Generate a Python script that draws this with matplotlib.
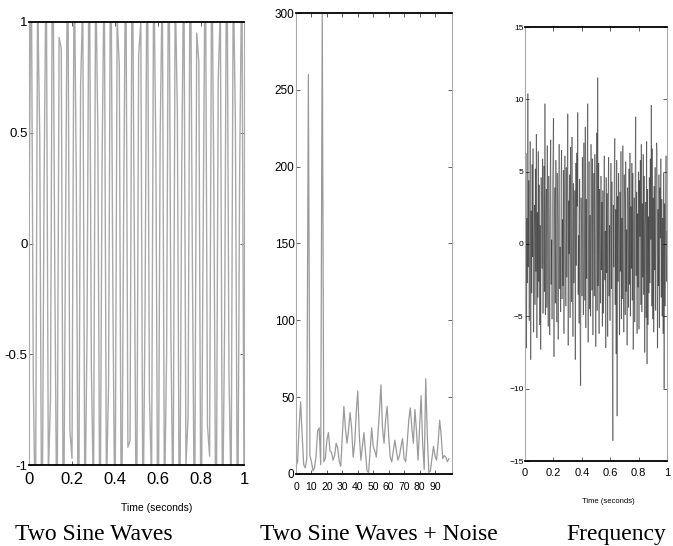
#!/usr/bin/env python

import numpy as np
import matplotlib
matplotlib.use('Agg')
import matplotlib.pyplot as plt
from matplotlib.collections import LineCollection

sine_vals = [0.0, 1.45, -0.62, -1.30, 1.12, 0.48, -1.58, 0.25, 1.36, -1.05,
             -0.70, 1.62, -0.15, -1.41, 0.93, 0.88, -1.52, 0.06, 1.49, -0.84,
             -0.97, 1.33, 0.30, -1.60, 0.71, 1.10, -1.26, -0.40, 1.57, -0.55,
             -1.18, 1.24, 0.52, -1.47, 0.38, 1.28, -1.12, -0.64, 1.55, -0.22,
             -1.38, 1.02, 0.80, -1.55, 0.12, 1.44, -0.92, -0.89, 1.50, 0.02,
             -1.53, 0.85, 1.00, -1.34, -0.28, 1.59, -0.68, -1.08, 1.30, 0.42,
             -1.60, 0.48, 1.20, -1.20, -0.50, 1.61, -0.40, -1.27, 1.16, 0.60,
             -1.56, 0.28, 1.35, -1.00, -0.78, 1.54, -0.10, -1.43, 0.95, 0.82,
             -1.50, 0.05, 1.48, -0.82, -0.96, 1.40, 0.22, -1.58, 0.74, 1.06,
             -1.30, -0.36, 1.58, -0.58, -1.15, 1.22, 0.55, -1.48, 0.35, 1.30,
             -1.10]
sine_t = np.linspace(0, 1, len(sine_vals))

# spectrum, bins 0..99
spec_vals = [5, 8, 30, 47, 25, 6, 4, 10, 260, 12,
             8, 2, 4, 12, 28, 30, 6, 300, 8, 10,
             22, 27, 15, 14, 9, 12, 20, 17, 8, 5,
             25, 44, 30, 20, 28, 40, 30, 11, 20, 40,
             54, 25, 9, 18, 27, 14, 2, 1, 15, 30,
             18, 15, 11, 25, 40, 58, 30, 20, 35, 44,
             25, 11, 8, 15, 22, 15, 9, 12, 18, 23,
             10, 8, 20, 35, 43, 30, 20, 42, 28, 9,
             30, 51, 20, 3, 62, 25, 1, 2, 10, 18,
             12, 9, 20, 35, 25, 10, 12, 11, 8, 10]
spec_x = np.arange(len(spec_vals))

# noisy signal over one second (300 samples)
noise_vals = [3.1, -4.6, 6.3, -7.2, 1.8, -2.7, 10.4, -1.6, 4.4, -5.3, 0.8, 7.1, -8.0, 2.3, -3.4, 5.5, -0.9, 6.6, -6.1, 0.4,
              2.7, -4.2, 5.2, -1.9, 7.6, -6.5, 2.2, -3.7, 6.4, -2.6, 4.1, -5.6, 1.3, -7.3, 4.6, 2.8, -1.7, 5.9, -4.8, 0.2,
              5.4, -3.3, 9.7, -4.9, 1.6, 3.8, -4.4, 6.8, -2.1, -5.7, 4.7, 0.9, -6.3, 3.4, 7.2, -2.8, 0.3, -5.2, 3.6, 6.2,
              8.7, -7.8, 2.5, 3.9, -4.1, 5.8, -1.8, -5.4, 4.9, 1.2, -6.6, 2.9, 6.9, -3.1, -0.2, -4.7, 4.3, 6.5, -3.8, 1.7,
              -2.9, 5.1, -6.2, 2.4, 6.1, -1.2, -4.3, 5.3, -2.3, 3.3, 9.0, -7.0, 3.0, -0.7, 4.8, -5.1, 6.7, 1.9, -4.0, 7.4,
              -2.2, -6.4, 4.2, -2.7, 1.1, 3.7, -8.0, 5.6, -1.5, 6.3, 2.6, 9.1, -3.5, 0.6, -5.5, 4.5, -6.0, -9.8, 3.2, 1.5,
              -3.6, 6.0, -1.1, -4.9, 7.0, 2.1, -3.9, 8.1, -5.8, 3.1, -2.4, 4.6, 9.7, -6.8, 0.7, 5.7, -4.5, 2.0, -5.0, 6.9,
              4.0, -3.2, 5.9, -6.3, 1.9, 4.9, -3.6, 6.2, -0.8, -7.1, 2.8, 7.7, -4.6, 11.5, -2.9, 5.6, -6.2, 3.8, 0.1, -4.1,
              4.7, -1.8, 2.9, -5.7, 3.7, -4.8, 1.7, 6.1, -2.5, 0.9, -7.2, 4.6, -2.0, 3.5, -6.4, 2.6, 6.0, -3.6, 1.3, -5.3,
              2.2, 5.6, -3.1, 4.3, -7.4, -13.6, 2.7, -1.6, 4.8, 7.3, -4.2, 2.4, -7.6, 5.8, -11.9, 3.3, -2.6, 4.9, 0.8, -6.3,
              3.6, -1.9, 6.4, -5.2, 1.8, -3.8, 6.8, -0.9, -6.1, 4.8, 2.7, -4.9, 5.7, -3.3, 1.0, -7.0, 3.9, 2.3, -4.4, 5.2,
              -2.8, 6.3, -5.0, 2.6, -1.7, 5.6, -3.9, 4.9, -7.3, 1.4, 3.2, -5.4, 4.1, 8.8, -2.2, 3.6, -6.2, 2.1, -3.0, 5.0,
              -5.9, 4.4, 0.5, 5.8, -4.2, 6.9, -4.7, 2.8, -2.3, 6.2, -3.5, 4.7, -7.5, 1.2, 2.9, -5.1, 7.1, -8.3, 3.8, -5.6,
              1.9, -3.4, 4.6, -2.7, 5.9, 0.3, 9.6, -4.3, 6.6, -5.2, 3.2, -6.1, 4.0, -1.8, 5.3, -4.6, 1.1, 7.0, 6.4, -7.2,
              2.4, -2.9, 4.8, -5.8, 3.9, 0.4, 5.9, -3.7, 3.1, -5.0, 1.8, -6.2, 4.9, -10.0, 2.8, -4.3, 2.1, 6.1, -2.6, 0.9]
noise_t = np.linspace(0, 1, len(noise_vals))

captions = ['Two Sine Waves', 'Two Sine Waves + Noise', 'Frequency']

tick_font = ['Liberation Sans', 'DejaVu Sans']
W, H = 673, 546
fig = plt.figure(figsize=(6.73, 5.46), dpi=100)


def box(l, r, t, b):
    return fig.add_axes([l / W, (H - b) / H, (r - l) / W, (b - t) / H])


def style(ax, ysize, xsize, xpad):
    ax.tick_params(direction='in', length=3, width=0.6, top=True, right=True,
                   color='#444444')
    ax.tick_params(axis='y', labelsize=ysize, pad=1)
    ax.tick_params(axis='x', labelsize=xsize, pad=xpad)
    for lab in ax.get_xticklabels() + ax.get_yticklabels():
        lab.set_family(tick_font)
    for s in ['top', 'bottom']:
        ax.spines[s].set_linewidth(1.3)
        ax.spines[s].set_color('black')
    for s in ['left', 'right']:
        ax.spines[s].set_linewidth(0.8)
        ax.spines[s].set_color('#aaaaaa')


# panel 1
ax1 = box(29, 244, 22, 465)
ax1.plot(sine_t, sine_vals, color='#a8a8a8', lw=1.0)
ax1.set_xlim(0, 1)
ax1.set_ylim(-1, 1)
ax1.set_xticks([0, 0.2, 0.4, 0.6, 0.8, 1])
ax1.set_xticklabels(['0', '0.2', '0.4', '0.6', '0.8', '1'])
ax1.set_yticks([-1, -0.5, 0, 0.5, 1])
ax1.set_yticklabels(['-1', '-0.5', '0', '0.5', '1'])
style(ax1, 9.5, 12, 5)
ax1.set_xlabel('Time (seconds)', family=tick_font, fontsize=7.5)
ax1.xaxis.set_label_coords(0.595, -0.085)

# panel 2
ax2 = box(296, 452, 13, 474)
ax2.plot(spec_x, spec_vals, color='#9a9a9a', lw=0.9)
ax2.set_xlim(0, 101)
ax2.set_ylim(0, 300)
ax2.set_xticks(range(0, 100, 10))
ax2.set_yticks(range(0, 301, 50))
style(ax2, 8.5, 7.5, 6)

# panel 3: separate segments so overlaps darken like the scan
ax3 = box(525, 667, 27, 461)
pts = np.column_stack([noise_t, noise_vals])
segs = np.stack([pts[:-1], pts[1:]], axis=1)
ax3.add_collection(LineCollection(segs, colors='black', linewidths=0.8, alpha=0.4))
ax3.set_xlim(0, 1)
ax3.set_ylim(-15, 15)
ax3.set_xticks([0, 0.2, 0.4, 0.6, 0.8, 1])
ax3.set_xticklabels(['0', '0.2', '0.4', '0.6', '0.8', '1'])
ax3.set_yticks(range(-15, 16, 5))
style(ax3, 6, 8, 5)
ax3.set_xlabel('Time (seconds)', family=tick_font, fontsize=5.5)
ax3.xaxis.set_label_coords(0.585, -0.085)

# captions under the panels
for cx, txt in zip([94, 379, 616], captions):
    fig.text(cx / W, 6 / H, txt, ha='center', va='baseline',
             family=['Liberation Serif', 'DejaVu Serif'], fontsize=17)

fig.savefig('out.png', dpi=100)
